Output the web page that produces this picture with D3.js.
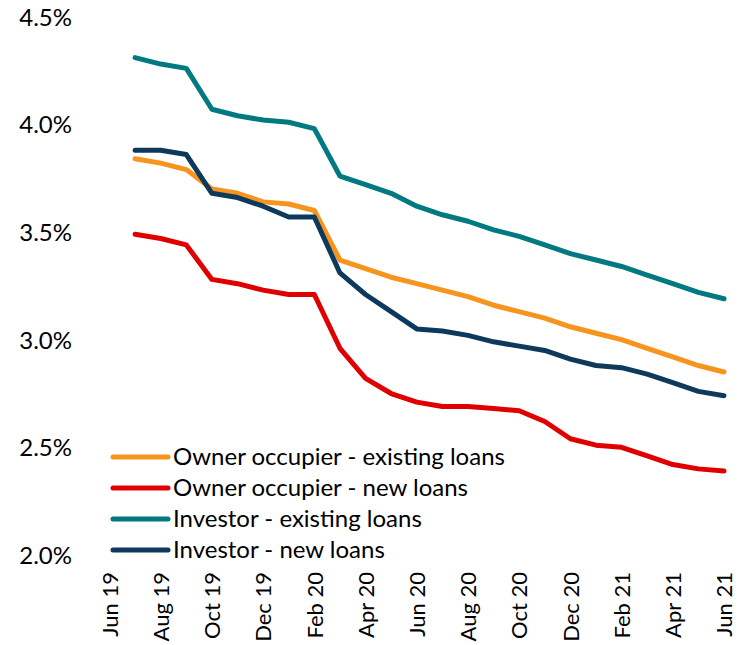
<!DOCTYPE html>
<html>
<head>
<meta charset="utf-8">
<script src="https://cdn.jsdelivr.net/npm/d3@7/dist/d3.min.js"></script>
<style>
  html, body { margin: 0; padding: 0; background: #fff; }
  svg { display: block; }
  text { font-family: Lato, "Open Sans", sans-serif; fill: #000; }
</style>
</head>
<body>
<svg id="chart" width="746" height="645"></svg>
<script>
// Monthly categories on the x axis (Jun 19 – Jun 21)
const months = ["Jun 19","Jul 19","Aug 19","Sep 19","Oct 19","Nov 19","Dec 19",
  "Jan 20","Feb 20","Mar 20","Apr 20","May 20","Jun 20","Jul 20","Aug 20","Sep 20",
  "Oct 20","Nov 20","Dec 20","Jan 21","Feb 21","Mar 21","Apr 21","May 21","Jun 21"];
// Observations run Jul 19 – Jun 21
const dataMonths = months.slice(1);

// Interest rates, % p.a.
const ownerExisting = [3.84,3.82,3.79,3.70,3.68,3.64,3.63,3.60,3.37,3.33,3.29,3.26,
  3.23,3.20,3.16,3.13,3.10,3.06,3.03,3.00,2.96,2.92,2.88,2.85];
const ownerNew = [3.49,3.47,3.44,3.28,3.26,3.23,3.21,3.21,2.96,2.82,2.75,2.71,
  2.69,2.69,2.68,2.67,2.62,2.54,2.51,2.50,2.46,2.42,2.40,2.39];
const investorExisting = [4.31,4.28,4.26,4.07,4.04,4.02,4.01,3.98,3.76,3.72,3.68,3.62,
  3.58,3.55,3.51,3.48,3.44,3.40,3.37,3.34,3.30,3.26,3.22,3.19];
const investorNew = [3.88,3.88,3.86,3.68,3.66,3.62,3.57,3.57,3.31,3.21,3.13,3.05,
  3.04,3.02,2.99,2.97,2.95,2.91,2.88,2.87,2.84,2.80,2.76,2.74];

const seriesNames = ["Owner occupier - existing loans","Owner occupier - new loans",
  "Investor - existing loans","Investor - new loans"];
const seriesColors = ["#F7941D","#E00000","#007A80","#0D3A5C"];
const seriesValues = [ownerExisting, ownerNew, investorExisting, investorNew];

const yTicks = [2.0, 2.5, 3.0, 3.5, 4.0, 4.5];
const xTickLabels = months.filter((m, i) => i % 2 === 0);

const svg = d3.select("#chart");

const x = d3.scalePoint().domain(months).range([109.5, 724]);
const y = d3.scaleLinear().domain([2.0, 4.5]).range([555, 16.7]);

// Y axis: labels only, no domain line or ticks
const yAxis = d3.axisLeft(y).tickValues(yTicks).tickSize(0).tickPadding(0)
  .tickFormat(d => d3.format(".1f")(d) + "%");
const gy = svg.append("g").attr("transform", "translate(72,0)").call(yAxis);
gy.select(".domain").remove();
gy.selectAll("text")
  .attr("font-size", 24)
  .attr("dy", "0.35em")
  .style("font-family", "Lato, 'Open Sans', sans-serif")
  .attr("fill", "#000");

// X axis: rotated month labels every second month
const xAxis = d3.axisBottom(x).tickValues(xTickLabels).tickSize(0).tickPadding(0);
const gx = svg.append("g").attr("transform", "translate(0,572)").call(xAxis);
gx.select(".domain").remove();
gx.selectAll("text")
  .attr("font-size", 22)
  .attr("transform", "rotate(-90)")
  .attr("text-anchor", "end")
  .attr("x", 0)
  .attr("y", 0)
  .attr("dy", "0.35em")
  .style("font-family", "Lato, 'Open Sans', sans-serif")
  .attr("fill", "#000");

// Series lines
const line = d3.line()
  .x((d, i) => x(dataMonths[i]))
  .y(d => y(d));

svg.append("g").selectAll("path")
  .data(seriesValues)
  .join("path")
  .attr("d", d => line(d))
  .attr("fill", "none")
  .attr("stroke", (d, i) => seriesColors[i])
  .attr("stroke-width", 5)
  .attr("stroke-linejoin", "round")
  .attr("stroke-linecap", "round");

// Legend
const legend = svg.append("g").attr("transform", "translate(113,457)");
const rows = legend.selectAll("g")
  .data(seriesNames)
  .join("g")
  .attr("transform", (d, i) => `translate(0,${i * 31})`);
rows.append("line")
  .attr("x1", 0).attr("x2", 55).attr("y1", 0).attr("y2", 0)
  .attr("stroke", (d, i) => seriesColors[i])
  .attr("stroke-width", 5)
  .attr("stroke-linecap", "round");
rows.append("text")
  .attr("x", 60)
  .attr("dy", "0.35em")
  .attr("font-size", 24)
  .text(d => d);
</script>
</body>
</html>
